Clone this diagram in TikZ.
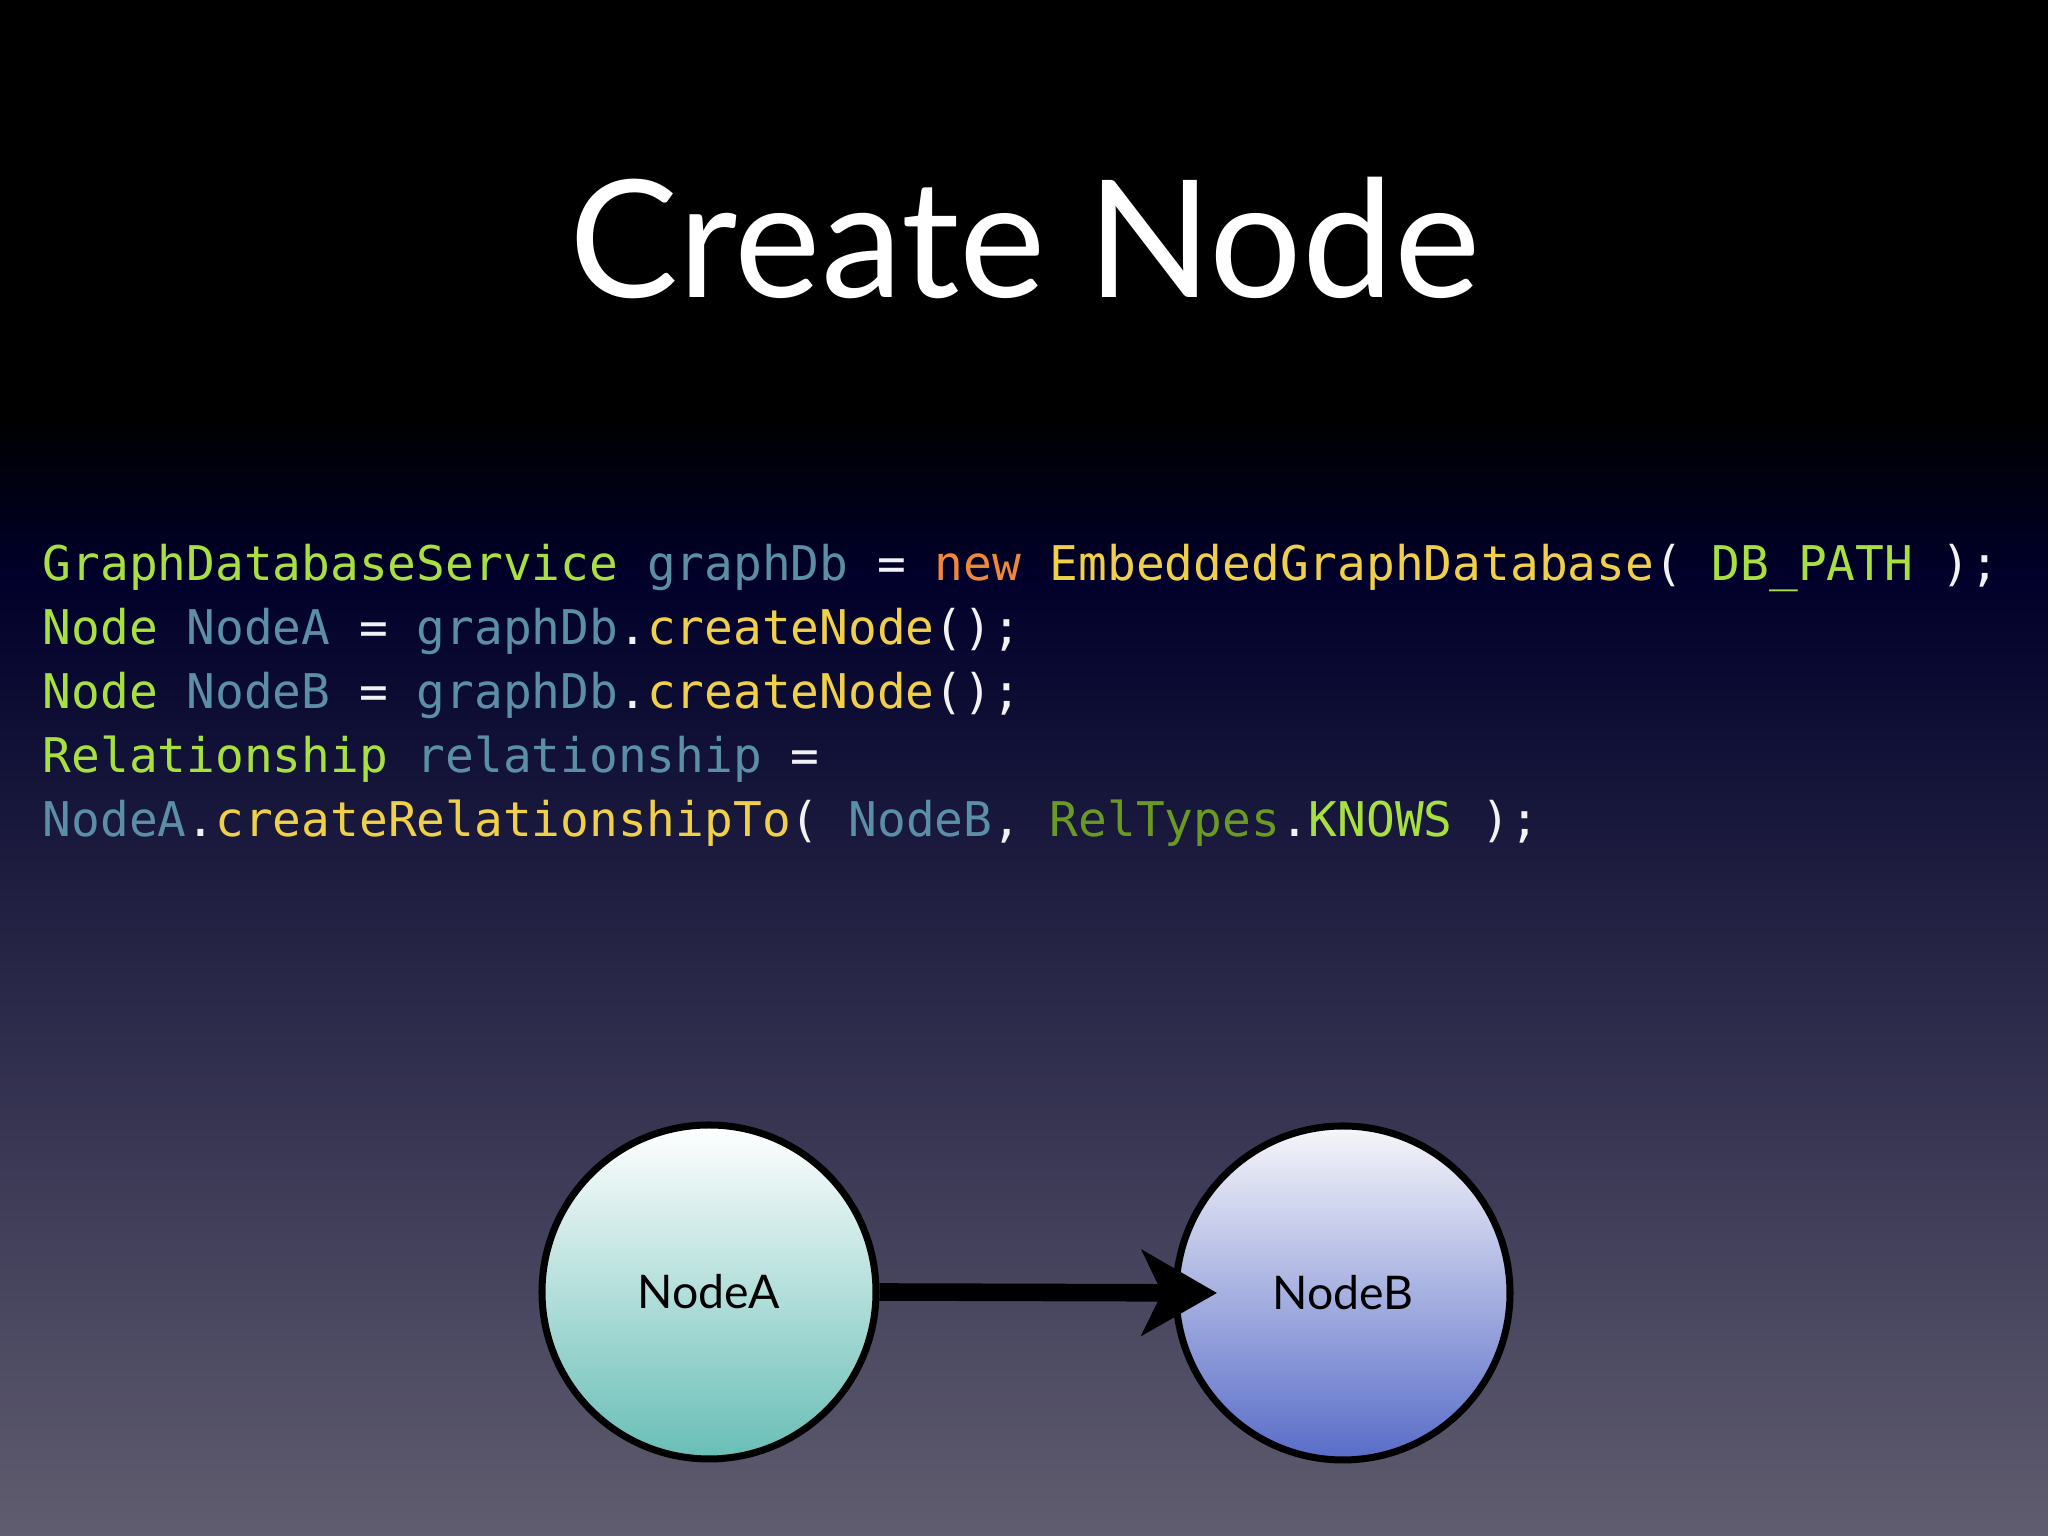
\documentclass[tikz,border=0pt]{standalone}
\usepackage{fontspec}
\setmainfont{Lato}
\newfontfamily\codefont{DejaVu Sans Mono}
\usetikzlibrary{arrows.meta}
\definecolor{cg}{HTML}{A8E040}
\definecolor{cb}{HTML}{5B8FA8}
\definecolor{co}{HTML}{F0883A}
\definecolor{cy}{HTML}{F0D048}
\definecolor{cd}{HTML}{6A9A22}
\definecolor{cw}{HTML}{F2F2F2}
\tikzset{
 code/.style={anchor=base west,inner sep=0pt,font=\codefont\fontsize{13.6pt}{16pt}\selectfont},
 gnode/.style={circle,draw=black,line width=2pt,minimum size=3.34cm,font=\fontsize{13.2pt}{16pt}\selectfont}
}
\begin{document}
\begin{tikzpicture}
\useasboundingbox (0,0) rectangle (20.48,15.36);
\shade[top color=black,bottom color=black] (0,11.2) rectangle (20.48,15.36);
\shade[top color=black,bottom color=black!45!blue!30!black] (0,9.6) rectangle (20.48,11.21);
\shade[top color=black!45!blue!30!black,bottom color={rgb,255:red,96;green,93;blue,112}] (0,0) rectangle (20.48,9.61);
\node[anchor=center,text=white,font=\fontsize{46.5pt}{56pt}\selectfont] (title) at (10.25,12.98) {Create Node};
\node[code] (l1) at (0.42,9.55) {\textcolor{cg}{GraphDatabaseService} \textcolor{cb}{graphDb} \textcolor{cw}{=} \textcolor{co}{new} \textcolor{cy}{EmbeddedGraphDatabase}\textcolor{cw}{(} \textcolor{cg}{DB\_PATH} \textcolor{cw}{);}};
\node[code] (l2) at (0.42,8.91) {\textcolor{cg}{Node} \textcolor{cb}{NodeA} \textcolor{cw}{=} \textcolor{cb}{graphDb}\textcolor{cw}{.}\textcolor{cy}{createNode}\textcolor{cw}{();}};
\node[code] (l3) at (0.42,8.27) {\textcolor{cg}{Node} \textcolor{cb}{NodeB} \textcolor{cw}{=} \textcolor{cb}{graphDb}\textcolor{cw}{.}\textcolor{cy}{createNode}\textcolor{cw}{();}};
\node[code] (l4) at (0.42,7.63) {\textcolor{cg}{Relationship} \textcolor{cb}{relationship} \textcolor{cw}{=}};
\node[code] (l5) at (0.42,6.99) {\textcolor{cb}{NodeA}\textcolor{cw}{.}\textcolor{cy}{createRelationshipTo}\textcolor{cw}{(} \textcolor{cb}{NodeB}\textcolor{cw}{,} \textcolor{cd}{RelTypes}\textcolor{cw}{.}\textcolor{cg}{KNOWS} \textcolor{cw}{);}};
\node[gnode,top color=white,bottom color={rgb,255:red,104;green,190;blue,182}] (a) at (7.09,2.44) {NodeA};
\node[gnode,top color={rgb,255:red,246;green,246;blue,250},bottom color={rgb,255:red,88;green,108;blue,200}] (b) at (13.43,2.43) {NodeB};
\coordinate (tip) at (12.17,2.43);
\draw[line width=5pt,-{Stealth[length=0.75cm,width=0.85cm,inset=0.2cm]}] (a.east) -- (tip);
\end{tikzpicture}
\end{document}
